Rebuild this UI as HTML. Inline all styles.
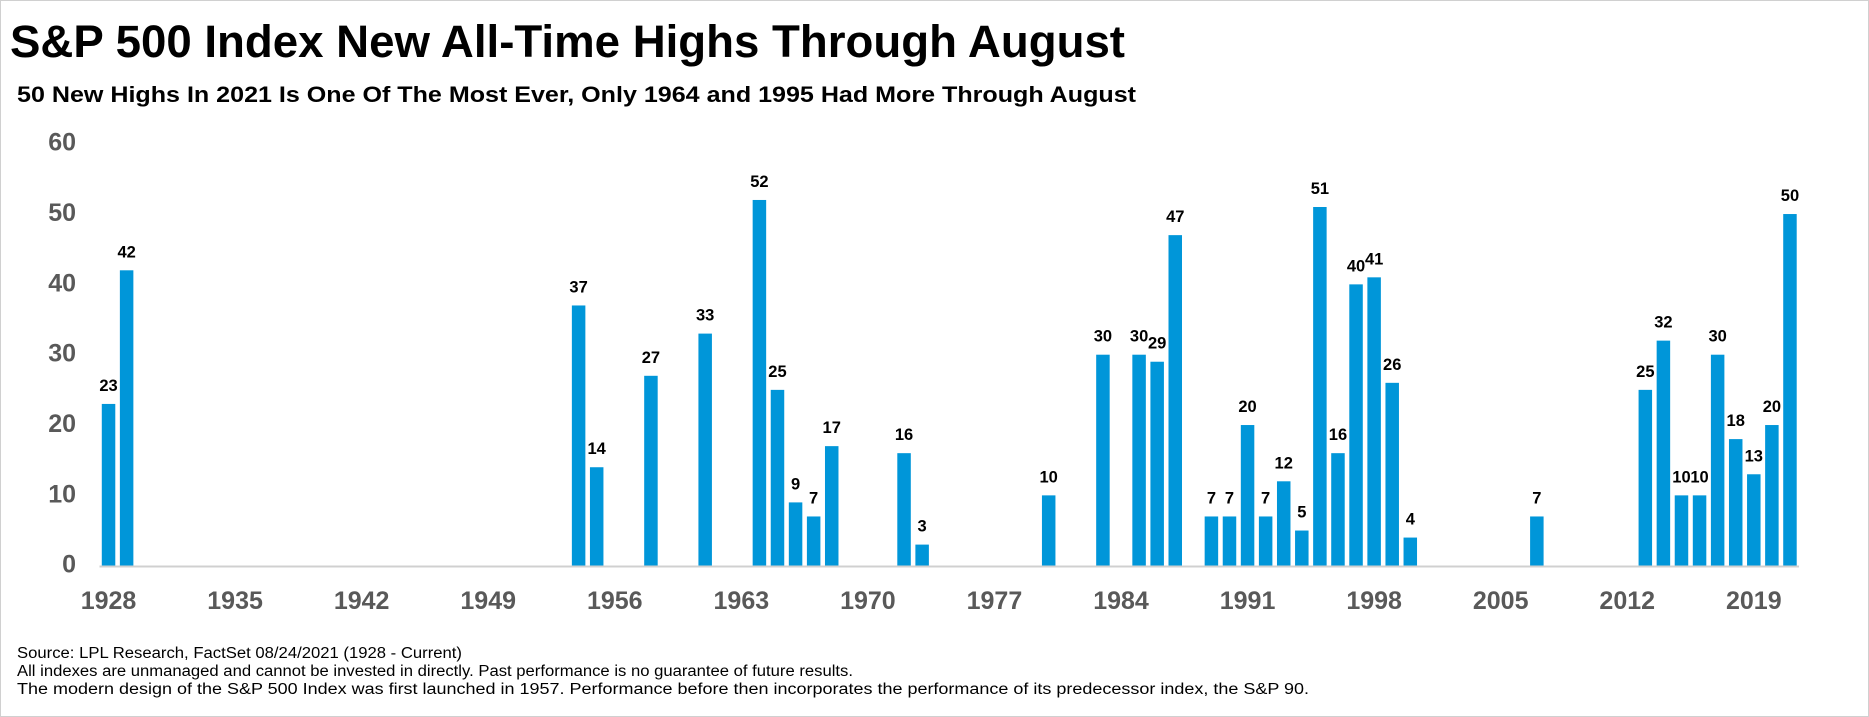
<!DOCTYPE html>
<html><head><meta charset="utf-8"><style>
html,body{margin:0;padding:0;background:#fff;}
svg{display:block;font-family:"Liberation Sans",Arial,sans-serif;}
</style></head><body>
<svg id="chart" width="1869" height="717" viewBox="0 0 1869 717" xmlns="http://www.w3.org/2000/svg">
<rect x="0.5" y="0.5" width="1868" height="716" fill="#fff" stroke="#d0d0d0"/>
<text x="10" y="57" font-size="45" font-weight="bold" fill="#000" textLength="1115" lengthAdjust="spacingAndGlyphs">S&amp;P 500 Index New All-Time Highs Through August</text>
<text x="17" y="102" font-size="22.5" font-weight="bold" fill="#000" textLength="1119" lengthAdjust="spacingAndGlyphs">50 New Highs In 2021 Is One Of The Most Ever, Only 1964 and 1995 Had More Through August</text>
<g id="yaxis"></g>
<g id="bars"></g>
<g id="xaxis"></g>
<g font-size="15.5" fill="#000">
<text x="17" y="658" textLength="445" lengthAdjust="spacingAndGlyphs">Source: LPL Research, FactSet 08/24/2021 (1928 - Current)</text>
<text x="17" y="676" textLength="836" lengthAdjust="spacingAndGlyphs">All indexes are unmanaged and cannot be invested in directly. Past performance is no guarantee of future results.</text>
<text x="17" y="694" textLength="1292" lengthAdjust="spacingAndGlyphs">The modern design of the S&amp;P 500 Index was first launched in 1957. Performance before then incorporates the performance of its predecessor index, the S&amp;P 90.</text>
</g>
</svg>
<script>
const years = [1928,1929,1954,1955,1958,1961,1964,1965,1966,1967,1968,1972,1973,1980,1983,1985,1986,1987,1989,1990,1991,1992,1993,1994,1995,1996,1997,1998,1999,2000,2007,2013,2014,2015,2016,2017,2018,2019,2020,2021];
const highs = [23,42,37,14,27,33,52,25,9,7,17,16,3,10,30,30,29,47,7,7,20,7,12,5,51,16,40,41,26,4,7,25,32,10,10,30,18,13,20,50];
const yTicks = [0,10,20,30,40,50,60];
const xTickYears = [1928,1935,1942,1949,1956,1963,1970,1977,1984,1991,1998,2005,2012,2019];
const firstYear = 1928, lastYear = 2021;

const NS = "http://www.w3.org/2000/svg";
const plotLeft = 99.5, plotRight = 1799, baseY = 565.7, topY = 143.7, yMax = 60;
const band = (plotRight - plotLeft) / (lastYear - firstYear + 1);
const xCenter = y => plotLeft + band * (y - firstYear + 0.5);
const yPos = v => baseY - (v / yMax) * (baseY - topY);
function mk(tag, attrs, parent){const e=document.createElementNS(NS,tag);for(const k in attrs)e.setAttribute(k,attrs[k]);parent.appendChild(e);return e;}

const ya = document.getElementById('yaxis');
yTicks.forEach(t=>{
  const e = mk('text',{x:76,y:yPos(t)+7,'text-anchor':'end','font-size':25,'font-weight':'bold',fill:'#595959'},ya);
  
  
  e.textContent = t;
});

const bg = document.getElementById('bars');
const bw = 13.5;
years.forEach((yr,i)=>{
  const v = highs[i], cx = xCenter(yr);
  const r = mk('rect',{x:cx-bw/2,y:yPos(v),width:bw,height:baseY-yPos(v),fill:'#0096d9'},bg);
  
  
  const t = mk('text',{x:cx,y:yPos(v)-13,'text-anchor':'middle','font-size':16.5,'font-weight':'bold',fill:'#000'},bg);
  
  
  t.textContent = v;
});

const xa = document.getElementById('xaxis');
const ln = mk('line',{x1:plotLeft,x2:plotRight,y1:baseY+0.8,y2:baseY+0.8,stroke:'#d0d0d0','stroke-width':2},xa);


xTickYears.forEach(yr=>{
  const t = mk('text',{x:xCenter(yr),y:609,'text-anchor':'middle','font-size':25,'font-weight':'bold',fill:'#595959'},xa);
  
  
  t.textContent = yr;
});
</script>
</body></html>
